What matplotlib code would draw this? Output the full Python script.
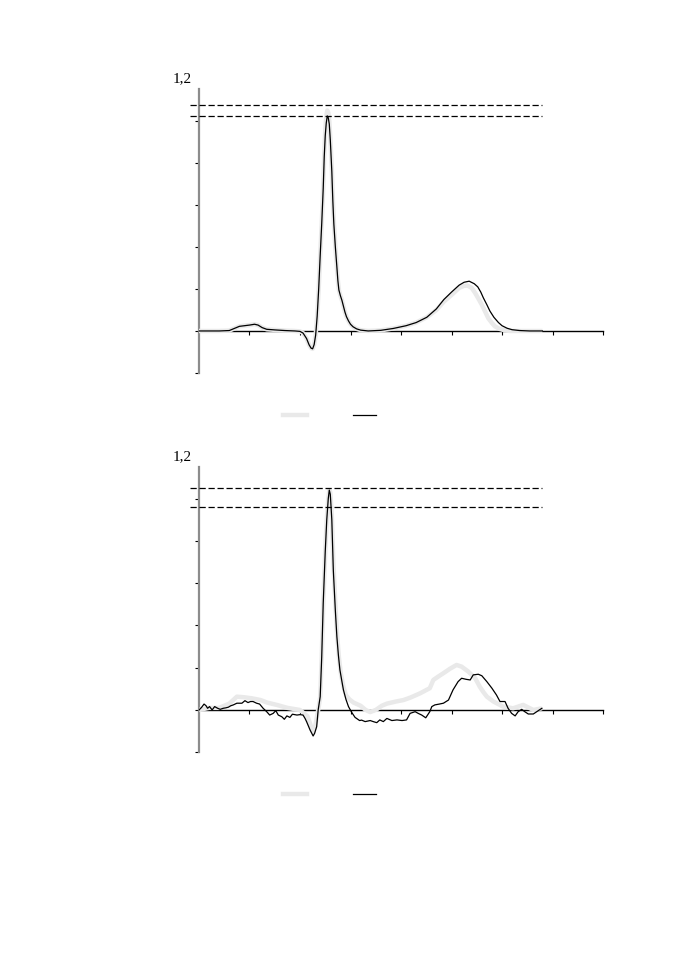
import matplotlib
matplotlib.use('Agg')
import matplotlib.pyplot as plt
from matplotlib.lines import Line2D

# panel 1 - averaged beat (black) and reference (gray)
t1 = [0, 40, 60, 70, 80, 90, 100, 110, 117, 125, 134, 150, 170, 190, 200, 206, 213, 218,
      222, 225, 228, 231, 234, 237, 240, 243, 246, 248, 250, 252, 254, 256, 258, 260, 263,
      265, 267, 270, 273, 275, 277, 280, 283, 286, 289, 292, 296, 300, 305, 312, 320, 335,
      360, 385, 410, 430, 451, 470, 485, 500, 515, 525, 535, 545, 552, 558, 563, 570, 576,
      584, 593, 600, 610, 620, 635, 655, 680]
v1 = [0, 0, 0.002, 0.012, 0.022, 0.025, 0.028, 0.032, 0.028, 0.016, 0.008, 0.005, 0.002, 0,
      -0.002, -0.01, -0.036, -0.066, -0.082, -0.085, -0.065, -0.02, 0.07, 0.2, 0.36, 0.51,
      0.68, 0.83, 0.93, 0.99, 1.024, 1.015, 0.985, 0.91, 0.76, 0.62, 0.51, 0.4, 0.305, 0.24,
      0.195, 0.168, 0.146, 0.118, 0.09, 0.068, 0.048, 0.032, 0.02, 0.01, 0.004, 0, 0.003,
      0.012, 0.025, 0.04, 0.065, 0.105, 0.15, 0.185, 0.218, 0.232, 0.237, 0.225, 0.21, 0.185,
      0.158, 0.125, 0.095, 0.065, 0.04, 0.025, 0.013, 0.006, 0.002, 0, 0]
g1_t = [0, 40, 60, 70, 80, 90, 100, 110, 117, 125, 134, 150, 170, 190, 200, 206, 213, 218,
        222, 225, 228, 231, 234, 237, 240, 243, 246, 248, 250, 252, 254, 256, 258, 260, 263,
        265, 267, 270, 273, 275, 277, 280, 283, 286, 289, 292, 296, 300, 305, 312, 320, 335,
        360, 385, 410, 430, 451, 470, 485, 504, 515, 525, 532, 540, 547, 553, 560, 566, 573,
        580, 586, 595, 602, 615, 680]
g1_v = [0, 0, 0.002, 0.012, 0.022, 0.025, 0.028, 0.032, 0.028, 0.016, 0.008, 0.005, 0.002, 0,
        -0.002, -0.01, -0.036, -0.066, -0.082, -0.085, -0.065, -0.02, 0.07, 0.2, 0.36, 0.51,
        0.68, 0.84, 0.95, 1.02, 1.05, 1.04, 1.0, 0.92, 0.77, 0.63, 0.52, 0.4, 0.305, 0.24,
        0.195, 0.168, 0.146, 0.118, 0.09, 0.068, 0.048, 0.032, 0.02, 0.01, 0.004, 0, 0.003,
        0.012, 0.025, 0.04, 0.065, 0.1, 0.14, 0.18, 0.205, 0.215, 0.216, 0.205, 0.18, 0.155,
        0.125, 0.095, 0.06, 0.038, 0.022, 0.01, 0.005, 0, 0]

# panel 2 - single noisy beat (black) and reference (gray)
t2 = [0, 5, 10, 14, 17, 21, 26, 31, 37, 42, 48, 53, 58, 63, 68, 75, 85, 91, 97, 102, 107,
      114, 120, 127, 134, 140, 147, 152, 157, 164, 169, 174, 180, 185, 194, 200, 206, 210,
      213, 220, 226, 229, 233, 236, 240, 243, 246, 250, 253, 256, 258, 260, 263, 266, 270,
      273, 276, 279, 283, 286, 291, 296, 302, 309, 312, 318, 322, 329, 339, 345, 352, 358,
      365, 372, 382, 392, 402, 411, 418, 428, 434, 441, 449, 457, 461, 467, 476, 484, 494,
      503, 513, 520, 529, 537, 543, 553, 560, 570, 580, 589, 596, 606, 612, 619, 626, 632,
      639, 645, 652, 662, 672, 679]
v2 = [0.0, 0.012, 0.028, 0.02, 0.008, 0.016, 0.0, 0.016, 0.008, 0.003, 0.008, 0.01, 0.013,
      0.02, 0.024, 0.032, 0.032, 0.044, 0.035, 0.04, 0.04, 0.032, 0.028, 0.008, -0.008,
      -0.024, -0.016, -0.003, -0.024, -0.032, -0.044, -0.028, -0.035, -0.02, -0.024, -0.022,
      -0.024, -0.04, -0.055, -0.095, -0.123, -0.11, -0.079, 0.0, 0.063, 0.25, 0.506, 0.75,
      0.9, 1.0, 1.04, 1.02, 0.9, 0.66, 0.47, 0.347, 0.26, 0.19, 0.135, 0.095, 0.05, 0.016,
      -0.01, -0.035, -0.04, -0.05, -0.048, -0.055, -0.05, -0.055, -0.06, -0.047, -0.055,
      -0.04, -0.05, -0.047, -0.05, -0.047, -0.016, -0.008, -0.016, -0.024, -0.037, -0.008,
      0.016, 0.024, 0.028, 0.032, 0.047, 0.095, 0.134, 0.15, 0.145, 0.142, 0.166, 0.169,
      0.162, 0.134, 0.103, 0.071, 0.04, 0.04, 0.008, -0.016, -0.028, -0.008, 0.003, -0.008,
      -0.019, -0.019, -0.003, 0.008]
g2_t = [0, 20, 40, 60, 75, 90, 105, 122, 135, 154, 175, 200, 215, 225, 230, 236, 240, 243,
        246, 250, 253, 256, 258, 260, 263, 266, 270, 273, 277, 281, 286, 291, 298, 306, 320,
        330, 339, 350, 362, 372, 390, 405, 420, 438, 457, 464, 475, 484, 497, 510, 520, 533,
        547, 556, 563, 570, 583, 602, 622, 642, 662, 679]
g2_v = [0.0, 0.01, 0.01, 0.03, 0.063, 0.06, 0.055, 0.047, 0.035, 0.024, 0.01, 0.0, -0.03,
        -0.1, -0.08, 0.0, 0.06, 0.25, 0.5, 0.75, 0.9, 1.0, 1.04, 1.03, 0.92, 0.7, 0.5, 0.37,
        0.25, 0.17, 0.11, 0.07, 0.05, 0.035, 0.02, 0.0, -0.01, 0.0, 0.02, 0.03, 0.04, 0.047,
        0.06, 0.079, 0.103, 0.142, 0.16, 0.174, 0.195, 0.213, 0.205, 0.182, 0.15, 0.11, 0.085,
        0.063, 0.04, 0.016, 0.008, 0.024, 0.0, 0.008]

# threshold levels (dashed)
levels1 = [1.076, 1.025]
levels2 = [1.05, 0.959]

x_ticks = [100, 200, 300, 400, 500, 600, 700, 800]
y_ticks = [-0.2, 0, 0.2, 0.4, 0.6, 0.8, 1.0]
top_label = '1,2'

GRAY = '#e9e9e9'


def draw_panel(ax, t, v, gt, gv, levels):
    ax.plot(gt, gv, color=GRAY, lw=3.2, zorder=3, solid_capstyle='butt')
    ax.plot(t, v, color='black', lw=0.9, zorder=4)
    ax.hlines(levels, -18, 680, colors='black', linestyles=(0, (5, 2.2)), lw=0.9,
              clip_on=False, zorder=5)

    ax.set_xlim(0, 800)
    ax.set_ylim(-0.2, 1.2)
    ax.spines['top'].set_visible(False)
    ax.spines['right'].set_visible(False)
    ax.spines['bottom'].set_position(('data', 0))
    ax.spines['bottom'].set_color('black')
    ax.spines['bottom'].set_linewidth(1.0)
    ax.spines['left'].set_color('#8c8c8c')
    ax.spines['left'].set_linewidth(1.6)
    ax.spines['left'].set_bounds(-0.2, 1.15)

    ax.set_xticks(x_ticks)
    ax.set_yticks(y_ticks)
    ax.set_xticklabels([])
    ax.set_yticklabels([])
    ax.tick_params(axis='x', direction='out', length=3, width=0.8, color='black')
    ax.tick_params(axis='y', direction='out', length=3, width=0.8, color='black')

    ax.text(-14, 1.2, top_label, ha='right', va='center', fontsize=11,
            family='Liberation Serif', clip_on=False)

    handles = [Line2D([], [], color=GRAY, lw=3.2), Line2D([], [], color='black', lw=0.9)]
    ax.legend(handles, ['', ''], ncol=2, loc='center', bbox_to_anchor=(0.324, -0.145),
              frameon=False, handlelength=1.7, handletextpad=0, columnspacing=3.3,
              fontsize=10)


fig = plt.figure(figsize=(6.78, 9.6), dpi=100)
ax1 = fig.add_axes([0.2935, 0.6115, 0.5959, 0.30625])
ax2 = fig.add_axes([0.2935, 0.2164, 0.5959, 0.3083])

draw_panel(ax1, t1, v1, g1_t, g1_v, levels1)
draw_panel(ax2, t2, v2, g2_t, g2_v, levels2)

fig.savefig('out.png', dpi=100, facecolor='white')
